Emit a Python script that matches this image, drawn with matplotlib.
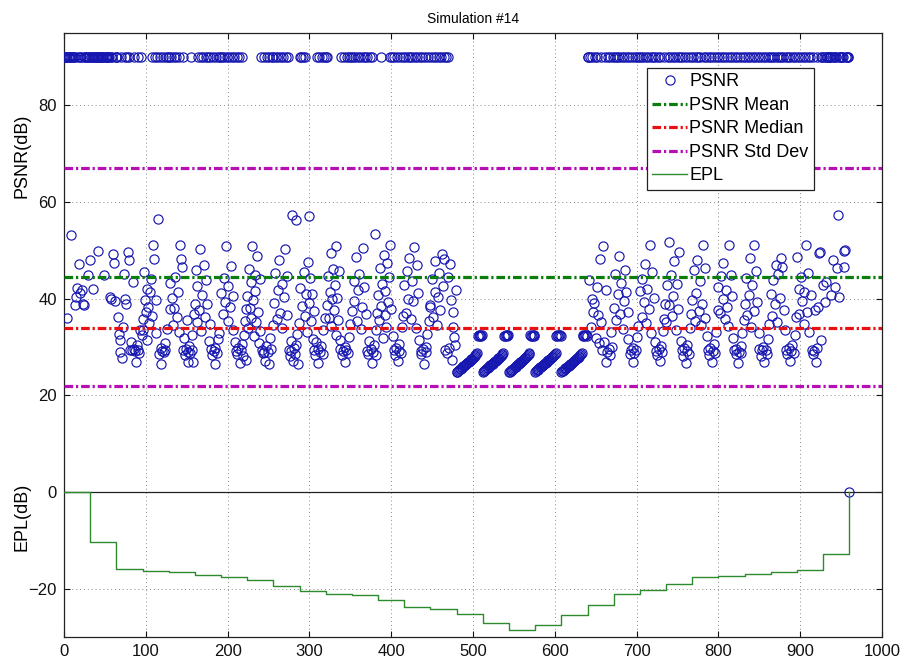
import numpy as np
import matplotlib
matplotlib.use("Agg")
import matplotlib.pyplot as plt

plt.rcParams['font.family'] = ['Liberation Sans', 'DejaVu Sans']

# PSNR per frame (dB), one row per 32-frame GOP; 90 = identical frame (capped)
psnr_by_gop = [
    [90, 90, 90, 90, 36.1, 90, 90, 90, 90, 53.1, 90, 90, 90, 38.7, 90, 40.4, 42.3, 90, 47.3, 41.1, 90, 90, 41.8, 39.0, 90, 38.7, 90, 90, 90, 44.9, 90, 90],
    [48.0, 90, 90, 90, 42.1, 90, 90, 90, 90, 49.8, 90, 90, 90, 90, 90, 90, 90, 44.9, 90, 90, 90, 90, 90, 90, 40.4, 90, 40.0, 90, 49.2, 47.5, 39.6, 90],
    [90, 90, 36.2, 32.8, 31.4, 29.0, 90, 27.7, 34.2, 45.2, 90, 40.0, 39.0, 90, 49.7, 48.0, 90, 29.4, 31.1, 29.4, 43.5, 29.7, 90, 29.2, 26.9, 30.4, 29.4, 90, 28.8, 33.5, 90, 32.4],
    [33.5, 35.8, 45.6, 39.7, 37.2, 42.0, 31.5, 38.4, 35.0, 41.3, 44.0, 36.5, 90, 51.1, 48.3, 90, 39.7, 32.9, 90, 56.6, 28.6, 90, 29.8, 26.6, 29.1, 90, 28.9, 30.8, 29.3, 90, 33.8, 90],
    [90, 43.2, 37.9, 90, 40.1, 34.6, 90, 38.0, 44.6, 90, 36.2, 41.5, 90, 33.1, 51.1, 48.3, 46.6, 90, 29.4, 31.8, 28.3, 29.7, 35.6, 29.0, 27.0, 30.2, 28.8, 90, 29.5, 32.6, 26.9, 36.9],
    [39.0, 45.9, 35.1, 42.7, 90, 37.6, 50.4, 90, 33.4, 40.8, 90, 47.0, 36.3, 90, 43.9, 38.9, 90, 31.2, 34.7, 90, 29.6, 28.4, 90, 29.1, 26.5, 29.9, 90, 28.7, 31.6, 90, 33.0, 90],
    [41.2, 90, 36.8, 44.3, 90, 39.4, 50.9, 90, 35.5, 42.6, 90, 38.2, 46.7, 90, 33.6, 40.5, 90, 31.0, 29.2, 90, 28.5, 29.8, 90, 26.8, 29.3, 30.6, 90, 28.1, 32.4, 35.3, 27.4, 37.8],
    [40.6, 34.0, 46.1, 38.1, 43.4, 36.0, 51.0, 39.8, 32.2, 45.0, 41.7, 35.2, 48.8, 37.3, 30.9, 44.1, 33.3, 90, 29.4, 28.7, 90, 29.0, 27.1, 30.3, 90, 28.9, 26.4, 90, 31.9, 29.6, 90, 34.5],
    [90, 39.2, 45.3, 90, 35.9, 41.9, 90, 48.1, 37.0, 90, 43.0, 33.9, 90, 40.3, 50.2, 90, 36.6, 44.8, 90, 29.5, 28.2, 31.3, 29.1, 57.4, 27.2, 29.9, 28.6, 56.3, 30.5, 32.7, 26.5, 35.0],
    [90, 42.2, 90, 38.6, 90, 45.5, 90, 36.4, 40.9, 33.2, 47.7, 39.1, 57.1, 44.2, 35.4, 41.0, 31.7, 37.5, 29.3, 28.4, 31.0, 90, 29.7, 26.7, 90, 29.0, 30.2, 90, 28.5, 33.5, 90, 36.0],
    [90, 38.8, 90, 44.7, 36.1, 41.4, 49.5, 34.3, 39.9, 46.2, 37.7, 42.8, 32.5, 51.0, 40.2, 35.7, 45.8, 31.4, 29.6, 90, 28.3, 29.2, 90, 27.0, 30.0, 29.4, 90, 28.7, 32.0, 90, 34.8, 90],
    [37.4, 90, 43.6, 39.5, 90, 48.6, 35.3, 90, 41.8, 45.1, 90, 33.7, 38.3, 90, 50.5, 42.4, 90, 36.9, 29.2, 90, 28.6, 31.2, 90, 29.7, 26.8, 90, 29.0, 30.4, 53.5, 28.4, 33.6, 37.0],
    [40.7, 35.6, 46.4, 90, 38.5, 43.1, 31.9, 49.0, 36.7, 41.6, 34.2, 47.5, 39.3, 44.5, 90, 51.2, 37.9, 90, 32.3, 29.4, 90, 28.4, 29.9, 90, 27.1, 29.2, 30.7, 90, 28.8, 34.1, 90, 36.4],
    [42.9, 90, 37.1, 45.7, 90, 40.0, 48.4, 90, 35.8, 43.7, 90, 39.6, 50.8, 90, 34.0, 46.9, 90, 41.2, 31.5, 90, 29.1, 28.5, 90, 29.6, 26.6, 90, 30.1, 28.9, 32.8, 90, 35.4, 38.2],
    [38.7, 90, 44.0, 36.2, 90, 41.5, 47.9, 90, 34.5, 40.4, 90, 45.3, 37.6, 90, 49.3, 42.7, 90, 48.3, 29.5, 90, 28.7, 44.5, 90, 29.9, 47.3, 39.7, 27.3, 37.3, 34.2, 32.1, 30.4, 41.8],
    [24.8, 24.9, 25.1, 25.2, 25.4, 25.5, 25.7, 25.8, 26.0, 26.1, 26.3, 26.4, 26.6, 26.7, 26.9, 27.0, 27.2, 27.3, 27.5, 27.6, 27.8, 27.9, 28.1, 28.3, 28.5, 28.7, 32.2, 32.4, 32.3, 32.5, 32.3, 32.4],
    [24.9, 25.0, 25.1, 25.3, 25.4, 25.6, 25.7, 25.9, 26.0, 26.2, 26.3, 26.5, 26.6, 26.8, 26.9, 27.1, 27.2, 27.4, 27.5, 27.7, 27.8, 28.0, 28.2, 28.4, 28.6, 28.8, 32.3, 32.2, 32.4, 32.5, 32.3, 32.4],
    [24.8, 24.9, 25.0, 25.2, 25.3, 25.5, 25.6, 25.8, 25.9, 26.1, 26.2, 26.4, 26.6, 26.7, 26.9, 27.0, 27.2, 27.3, 27.5, 27.7, 27.8, 28.0, 28.1, 28.3, 28.5, 28.7, 32.4, 32.3, 32.2, 32.4, 32.5, 32.3],
    [24.9, 25.0, 25.2, 25.3, 25.5, 25.6, 25.8, 25.9, 26.0, 26.2, 26.3, 26.5, 26.7, 26.8, 27.0, 27.1, 27.3, 27.4, 27.6, 27.7, 27.9, 28.0, 28.2, 28.4, 28.6, 28.8, 32.2, 32.4, 32.3, 32.4, 32.5, 32.3],
    [24.8, 25.0, 25.1, 25.3, 25.4, 25.6, 25.7, 25.9, 26.0, 26.1, 26.3, 26.4, 26.6, 26.8, 26.9, 27.1, 27.2, 27.4, 27.5, 27.7, 27.8, 28.0, 28.2, 28.4, 28.6, 28.7, 32.3, 32.4, 32.2, 32.5, 32.4, 32.3],
    [90, 90, 43.8, 90, 34.2, 40.0, 90, 37.3, 39.2, 90, 31.9, 42.5, 90, 36.6, 30.8, 48.3, 90, 35.1, 29.4, 50.9, 31.1, 90, 27.0, 41.8, 29.0, 90, 29.6, 28.4, 90, 33.2, 30.1, 90],
    [38.1, 90, 45.2, 35.7, 90, 40.9, 48.9, 90, 36.9, 43.3, 90, 33.8, 39.6, 90, 46.0, 41.4, 90, 31.6, 37.2, 90, 28.6, 29.5, 90, 29.9, 26.9, 28.8, 90, 29.3, 32.1, 90, 34.4, 90],
    [41.7, 90, 36.3, 44.1, 90, 39.3, 47.2, 90, 34.9, 42.0, 90, 37.8, 51.1, 90, 33.0, 45.6, 90, 40.1, 31.0, 90, 29.2, 28.4, 90, 29.7, 27.2, 90, 30.3, 28.9, 33.4, 90, 35.9, 39.0],
    [35.2, 42.8, 90, 38.7, 51.8, 90, 44.9, 36.5, 90, 40.6, 47.8, 90, 33.5, 43.0, 90, 37.9, 49.6, 90, 31.3, 29.4, 90, 28.1, 29.8, 90, 26.7, 29.1, 30.5, 90, 28.6, 34.0, 90, 36.8],
    [39.8, 90, 45.9, 35.4, 90, 41.1, 48.0, 90, 37.4, 43.6, 90, 34.6, 39.0, 51.1, 90, 46.3, 36.1, 90, 32.2, 29.5, 90, 28.4, 29.9, 90, 27.0, 29.2, 90, 30.6, 28.7, 33.1, 90, 37.6],
    [42.4, 90, 37.0, 44.8, 90, 39.9, 47.5, 90, 35.8, 41.9, 90, 38.4, 34.3, 51.1, 90, 45.0, 40.6, 90, 31.8, 29.3, 90, 28.5, 29.7, 90, 26.8, 29.0, 90, 30.2, 28.8, 32.9, 90, 35.6],
    [38.9, 90, 44.2, 36.7, 90, 40.8, 48.5, 90, 34.1, 42.9, 90, 37.5, 51.1, 90, 45.7, 39.4, 90, 33.0, 29.6, 90, 28.2, 29.4, 90, 30.0, 26.9, 90, 29.3, 28.6, 31.7, 90, 34.7, 90],
    [41.0, 90, 36.4, 43.8, 90, 39.0, 47.0, 90, 35.2, 45.2, 90, 40.2, 90, 48.4, 46.6, 90, 37.7, 33.6, 90, 29.4, 28.5, 90, 29.8, 27.1, 90, 29.2, 30.4, 90, 28.7, 32.5, 90, 36.2],
    [48.7, 90, 42.1, 36.9, 90, 44.6, 39.5, 90, 34.8, 41.3, 90, 51.1, 37.3, 90, 45.4, 33.2, 90, 40.7, 29.5, 90, 28.6, 29.1, 37.6, 27.0, 29.9, 90, 38.3, 49.5, 49.7, 90, 31.4, 90],
    [42.8, 90, 39.4, 90, 43.5, 90, 90, 90, 90, 90, 40.7, 90, 48.0, 90, 42.5, 90, 90, 46.3, 57.3, 40.4, 90, 90, 90, 90, 90, 46.6, 49.9, 50.0, 90, 90, 90, 90],
]
psnr_last = [0.0]

# error propagation loss per GOP (dB), back to 0 at the end
epl_by_gop = [0, -10.3, -15.9, -16.3, -16.6, -17.2, -17.6, -18.1, -19.4, -20.5,
              -21.0, -21.4, -22.4, -23.8, -24.2, -25.2, -27.0, -28.6, -27.6, -25.5,
              -23.4, -21.0, -20.3, -19.0, -17.6, -17.4, -16.9, -16.5, -16.2, -12.8]
epl_last = [0]
gop_size = 32

psnr_mean = 44.5
psnr_median = 33.9
psnr_std = 22.6

x_ticks = [0, 100, 200, 300, 400, 500, 600, 700, 800, 900, 1000]
y_ticks = [-20, 0, 20, 40, 60, 80]

psnr = np.concatenate([np.ravel(psnr_by_gop), psnr_last])
frames = np.arange(len(psnr))
epl = np.concatenate([epl_by_gop, epl_last])
epl_x = np.arange(len(epl)) * gop_size

fig = plt.figure(figsize=(9.04, 6.63), dpi=100)
ax = fig.add_axes([0.0708, 0.0392, 0.9049, 0.9110])

h_psnr, = ax.plot(frames, psnr, 'o', ls='none', ms=6.6, mfc='none',
                  mec='#1616b0', mew=0.85, label='PSNR', zorder=3)

dd = (2.7, 0.9, 0.7, 0.9)
h_mean = ax.axhline(psnr_mean, color='#0b7d0b', lw=2.3, dashes=dd, label='PSNR Mean', zorder=4)
h_med = ax.axhline(psnr_median, color='#e81010', lw=2.3, dashes=dd, label='PSNR Median', zorder=4)
h_std = ax.axhline(psnr_mean + psnr_std, color='#b50fb5', lw=2.3, dashes=dd,
                   label='PSNR Std Dev', zorder=4)
ax.axhline(psnr_mean - psnr_std, color='#b50fb5', lw=2.3, dashes=dd, zorder=4)

ax.axhline(0, color='#222222', lw=0.9, zorder=4)
h_epl, = ax.step(epl_x, epl, where='post', color='#2f8a2f', lw=1.0, label='EPL', zorder=5)

ax.set_xlim(0, 1000)
ax.set_ylim(-30, 95)
ax.set_xticks(x_ticks)
ax.set_yticks(y_ticks)
ax.tick_params(direction='in', length=4.5, width=0.8, labelsize=12,
               top=True, right=True, pad=5, colors='#111111')
ax.grid(True, linestyle=(0, (1, 3)), color='#8a8a8a', lw=0.7)
for s in ax.spines.values():
    s.set_linewidth(0.9)
    s.set_color('#222222')

ax.set_title('Simulation #14', fontsize=10, pad=7)
fig.text(0.024, 0.765, 'PSNR(dB)', rotation=90, fontsize=13, ha='center', va='center')
fig.text(0.024, 0.22, 'EPL(dB)', rotation=90, fontsize=13, ha='center', va='center')

leg = ax.legend([h_psnr, h_mean, h_med, h_std, h_epl],
                ['PSNR', 'PSNR Mean', 'PSNR Median', 'PSNR Std Dev', 'EPL'],
                loc='upper left', bbox_to_anchor=(647 / 904, 1 - 68 / 663),
                bbox_transform=fig.transFigure, fontsize=13, numpoints=1,
                handlelength=1.9, handletextpad=0.15, labelspacing=0.36,
                borderpad=0.3, borderaxespad=0, fancybox=False, framealpha=1)
leg.get_frame().set_edgecolor('#222222')
leg.get_frame().set_linewidth(0.9)
leg.set_zorder(10)

fig.savefig('out.png', dpi=100)
